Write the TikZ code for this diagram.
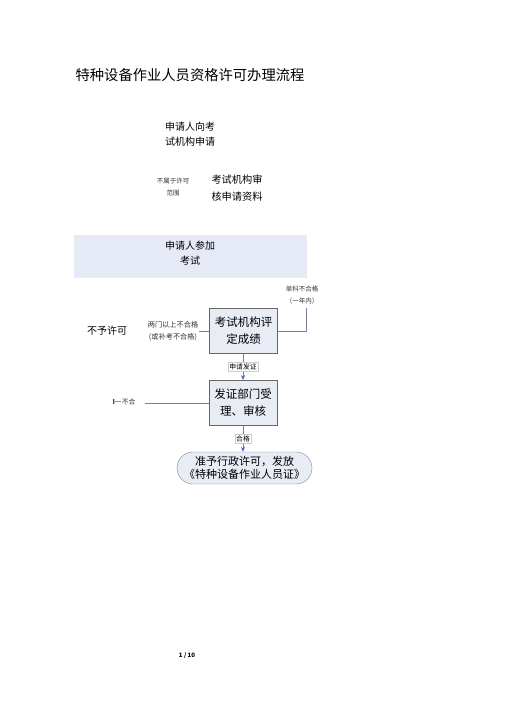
\documentclass[tikz,border=0pt]{standalone}
\usepackage{fontspec}
\setmainfont{Noto Sans CJK SC}
\usepackage{tikz}
\usetikzlibrary{positioning, arrows.meta, shapes.misc}
\definecolor{boxFill}{RGB}{232,236,245}
\definecolor{bandFill}{RGB}{229,234,246}
\definecolor{lineGray}{RGB}{120,130,150}
\definecolor{arrowBlue}{RGB}{70,100,190}

\begin{document}
\begin{tikzpicture}[
    x=1pt, y=-1pt,
    >={Stealth[length=5pt,width=4pt,color=arrowBlue]},
    txt/.style={align=center, inner sep=0pt, font=\fontsize{10}{14.5}\selectfont},
    tiny/.style={align=center, inner sep=1pt, font=\fontsize{6.5}{11.5}\selectfont, text=black!80},
    stepbox/.style={rectangle, draw=black!60, fill=boxFill, thick, minimum width=68pt, minimum height=45pt, align=center, inner sep=0pt, font=\fontsize{11.5}{17}\selectfont},
    finalbox/.style={rounded rectangle, draw=lineGray, fill=boxFill, minimum width=135pt, minimum height=32pt, align=center, inner sep=0pt, font=\fontsize{11}{13.5}\selectfont},
    tag/.style={rectangle, draw=black!20, fill=white, inner sep=1.2pt, font=\fontsize{6.8}{8}\selectfont},
    conn/.style={draw=lineGray, semithick}
]
    \useasboundingbox (0,0) rectangle (505,714);

    \node[font=\fontsize{14.3}{16}\selectfont] (title) at (190, 75) {特种设备作业人员资格许可办理流程};

    \node[txt] (apply) at (190, 134) {申请人向考\\试机构申请};
    \node[tiny] (outscope) at (173, 187) {不属于许可\\范围};
    \node[txt, font=\fontsize{10.2}{17}\selectfont] (review) at (237, 188) {考试机构审\\核申请资料};

    \fill[bandFill] (74, 235) rectangle (307, 278);
    \node[txt] (exam) at (190, 253) {申请人参加\\考试};

    \node[stepbox] (grade) at (243.5, 331) {考试机构评\\定成绩};
    \node[stepbox] (issue) at (243, 403) {发证部门受\\理、审核};
    \node[finalbox] (grant) at (244.5, 468) {准予行政许可，发放\\《特种设备作业人员证》};

    \coordinate (single_end) at (306, 308);
    \coordinate (twofail_end) at (147, 331);
    \coordinate (onefail_end) at (145, 403);
    \draw[conn] (grade.east) -| (single_end);
    \draw[conn] (grade.west) -- (twofail_end);
    \draw[conn] (issue.west) -- (onefail_end);

    \node[txt] (deny) at (107, 331) {不予许可};
    \node[tiny] (single) at (302, 295) {单科不合格\\（一年内）};
    \node[tiny, fill=white, font=\fontsize{7.2}{12}\selectfont] (twofail) at (173, 331) {两门以上不合格\\(或补考不合格)};
    \node[tiny, font=\fontsize{6.8}{8}\selectfont] (onefail) at (124, 402) {\textbf{I}一不合};

    \draw[conn, ->] (grade.south -| issue.north) -- (issue.north) node[tag, midway] (applycert) {申请发证};
    \draw[conn, ->] (issue.south) -- (grant.north -| issue.south) node[tag, midway] (pass) {合格};

    \node[font=\fontsize{6}{7}\selectfont\bfseries] (page) at (187, 656) {1 / 10};
\end{tikzpicture}
\end{document}
